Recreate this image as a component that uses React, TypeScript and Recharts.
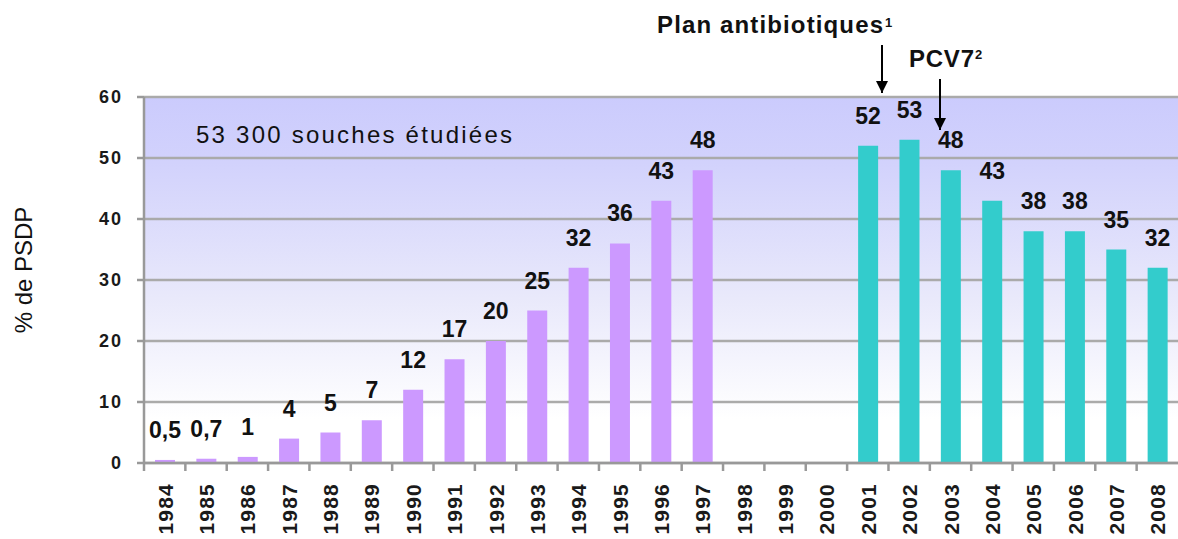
import { BarChart, Bar, XAxis, YAxis, CartesianGrid, Cell, LabelList } from 'recharts'

const annees = ['1984', '1985', '1986', '1987', '1988', '1989', '1990', '1991', '1992', '1993', '1994', '1995', '1996', '1997', '1998', '1999', '2000', '2001', '2002', '2003', '2004', '2005', '2006', '2007', '2008']
const psdp: (number | null)[] = [0.5, 0.7, 1, 4, 5, 7, 12, 17, 20, 25, 32, 36, 43, 48, null, null, null, 52, 53, 48, 43, 38, 38, 35, 32]
const premierAnneePlan = 2001
const yTicks = [0, 10, 20, 30, 40, 50, 60]

const W = 1178
const H = 539
const LEFT = 144
const TOP = 97
const BOTTOM_AXIS = 76
const BAND = (W - LEFT) / annees.length

const VIOLET = '#cc99ff'
const TURQUOISE = '#33cccc'
const FONT = '"Liberation Sans", Arial, sans-serif'

const data = annees.map((annee, i) => ({ annee, valeur: psdp[i] }))

// graduations entre les catégories, comme dans l'original
function XTick(props: any) {
  const { x, y, payload } = props
  return (
    <g>
      <line x1={x - BAND / 2} x2={x - BAND / 2} y1={y} y2={y + 8} stroke="#999" strokeWidth={2.5} />
      <text
        transform={`translate(${x + 8},${y + 20}) rotate(-90)`}
        textAnchor="end"
        fontFamily={FONT}
        fontSize={21}
        fontWeight="bold"
        letterSpacing={1.2}
        fill="#1a1a1a"
      >
        {payload.value}
      </text>
    </g>
  )
}

const fmt = (v: any) => (v == null ? '' : String(v).replace('.', ','))

export default function App() {
  return (
    <div style={{ position: 'absolute', left: 0, top: 0, width: W, height: H, background: '#fff', fontFamily: FONT }}>
      <BarChart width={W} height={H} data={data} margin={{ top: TOP, right: 0, bottom: 0, left: 0 }}>
        <defs>
          <linearGradient id="fond" x1="0" y1="0" x2="0" y2="1">
            <stop offset="0%" stopColor="#cbcbfd" />
            <stop offset="18%" stopColor="#d2d2fc" />
            <stop offset="55%" stopColor="#e9e9fb" />
            <stop offset="88%" stopColor="#ffffff" />
          </linearGradient>
        </defs>
        <CartesianGrid vertical={false} stroke="#aaaaaa" strokeWidth={2.5} fill="url(#fond)" fillOpacity={1} />
        <XAxis
          dataKey="annee"
          height={BOTTOM_AXIS}
          interval={0}
          tickSize={0}
          tickMargin={0}
          tickLine={false}
          axisLine={{ stroke: '#999', strokeWidth: 2.5 }}
          tick={<XTick />}
        />
        <YAxis
          width={LEFT}
          domain={[0, 60]}
          ticks={yTicks}
          interval={0}
          tickSize={7}
          tickMargin={14}
          axisLine={{ stroke: '#999', strokeWidth: 2.5 }}
          tickLine={{ stroke: '#999', strokeWidth: 2.5 }}
          tick={{ fill: '#1a1a1a', fontSize: 18, fontWeight: 'bold', fontFamily: FONT, letterSpacing: 2 }}
        />
        <Bar dataKey="valeur" barSize={20} isAnimationActive={false}>
          {data.map((d) => (
            <Cell key={d.annee} fill={Number(d.annee) >= premierAnneePlan ? TURQUOISE : VIOLET} />
          ))}
          <LabelList
            dataKey="valeur"
            position="top"
            offset={22}
            formatter={fmt}
            fill="#111"
            fontSize={23}
            fontWeight="bold"
            fontFamily={FONT}
          />
        </Bar>
      </BarChart>

      <svg width={W} height={H} style={{ position: 'absolute', left: 0, top: 0, pointerEvents: 'none' }}>
        <defs>
          <marker id="fleche" viewBox="0 0 10 10" refX="10" refY="5" markerWidth="6" markerHeight="6" orient="auto">
            <path d="M0,0 L10,5 L0,10 z" fill="#000" />
          </marker>
        </defs>
        <text x={23} y={270} transform="rotate(-90 23 270)" textAnchor="middle" dominantBaseline="central" fontFamily={FONT} fontSize={24} fill="#111">
          % de PSDP
        </text>
        <text x={196} y={143} fontFamily={FONT} fontSize={24} fill="#111" textLength={316} lengthAdjust="spacing">
          53 300 souches étudiées
        </text>
        <text x={657} y={33} fontFamily={FONT} fontSize={24} fontWeight="bold" fill="#111" textLength={226} lengthAdjust="spacing">
          Plan antibiotiques
        </text>
        <text x={885} y={27} fontFamily={FONT} fontSize={13} fontWeight="bold" fill="#111">1</text>
        <text x={909} y={67} fontFamily={FONT} fontSize={24} fontWeight="bold" fill="#111" textLength={65} lengthAdjust="spacing">
          PCV7
        </text>
        <text x={975} y={59} fontFamily={FONT} fontSize={13} fontWeight="bold" fill="#111">2</text>
        <line x1={882} y1={45} x2={882} y2={93} stroke="#000" strokeWidth={2} markerEnd="url(#fleche)" />
        <line x1={940} y1={79} x2={940} y2={130} stroke="#000" strokeWidth={2} markerEnd="url(#fleche)" />
      </svg>
    </div>
  )
}
